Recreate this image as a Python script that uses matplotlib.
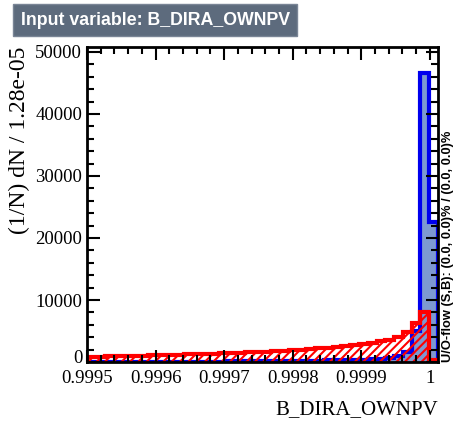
import numpy as np
import matplotlib.pyplot as plt
import matplotlib.transforms as mtransforms
from matplotlib.ticker import MultipleLocator

# binning: 40 bins of 1.28e-05 starting at 0.9995
x_min = 0.9995
bin_width = 1.28e-05
n_bins = 40

signal = [20, 22, 25, 28, 30, 33, 36, 40, 44, 48,
          52, 57, 62, 68, 74, 80, 88, 96, 105, 115,
          125, 137, 150, 165, 180, 200, 220, 245, 270, 300,
          340, 390, 450, 530, 650, 900, 1600, 5000, 46600, 22600]

background = [850, 880, 910, 940, 970, 1000, 1030, 1060, 1100, 1140,
              1180, 1220, 1260, 1300, 1350, 1400, 1450, 1500, 1560, 1620,
              1690, 1760, 1840, 1920, 2010, 2100, 2200, 2310, 2430, 2560,
              2710, 2880, 3080, 3320, 3620, 4000, 4900, 6250, 8100, 350]

edges = x_min + bin_width * np.arange(n_bins + 1)

plt.rcParams['font.family'] = ['Liberation Serif', 'DejaVu Serif']
plt.rcParams['hatch.linewidth'] = 1.5

fig = plt.figure(figsize=(4.57, 4.21), dpi=100)
ax = fig.add_axes([0.1904, 0.1401, 0.768, 0.7483])

# signal: filled blue
ax.stairs(signal, edges, fill=True, color='#7d99d1', linewidth=0)
ax.stairs(signal, edges, baseline=0, color='#0000ee', linewidth=3)

# background: red hatched
ax.stairs(background, edges, fill=True, facecolor='none', edgecolor='#ff0000',
          hatch='////', linewidth=0)
ax.stairs(background, edges, baseline=0, color='#ff0000', linewidth=3)

ax.set_xlim(edges[0], edges[-1])
ax.set_ylim(0, 50800)

ax.xaxis.set_minor_locator(MultipleLocator(0.00002))
ax.yaxis.set_minor_locator(MultipleLocator(2000))
ax.set_xticks([0.9995, 0.9996, 0.9997, 0.9998, 0.9999, 1.0])
ax.set_xticklabels(['0.9995', '0.9996', '0.9997', '0.9998', '0.9999', '1'])
ax.set_yticks([0, 10000, 20000, 30000, 40000, 50000])
ax.set_yticklabels(['0', '10000', '20000', '30000', '40000', '50000'])
ax.tick_params(which='both', direction='in', top=True, right=True,
               labelsize=13.5, width=1.5)
ax.tick_params(which='major', length=9)
ax.tick_params(which='minor', length=5)
ax.tick_params(axis='x', pad=6)
for s in ax.spines.values():
    s.set_linewidth(2)

# nudge the "0" label up a little so it doesn't sit on 0.9995
zero_lab = ax.yaxis.get_majorticklabels()[0]
zero_lab.set_transform(zero_lab.get_transform() +
                       mtransforms.ScaledTranslation(0, 4 / 72, fig.dpi_scale_trans))

ax.set_ylabel('(1/N) dN / 1.28e-05', fontsize=17, loc='top', labelpad=4)
ax.set_xlabel('B_DIRA_OWNPV', fontsize=15, loc='right', labelpad=9)

fig.text(0.045, 0.952, 'Input variable: B_DIRA_OWNPV', fontsize=12.8,
         fontweight='bold', color='white', family='Liberation Sans',
         va='center', ha='left',
         bbox=dict(boxstyle='square,pad=0.42', facecolor='#5d6b7d',
                   edgecolor='#7a8596'))

fig.text(0.981, 0.14, 'U/O-flow (S,B): (0.0, 0.0)% / (0.0, 0.0)%',
         rotation=90, fontsize=9.3, fontweight='bold', family='Liberation Sans',
         ha='center', va='bottom')

fig.savefig('out.png', dpi=100)
